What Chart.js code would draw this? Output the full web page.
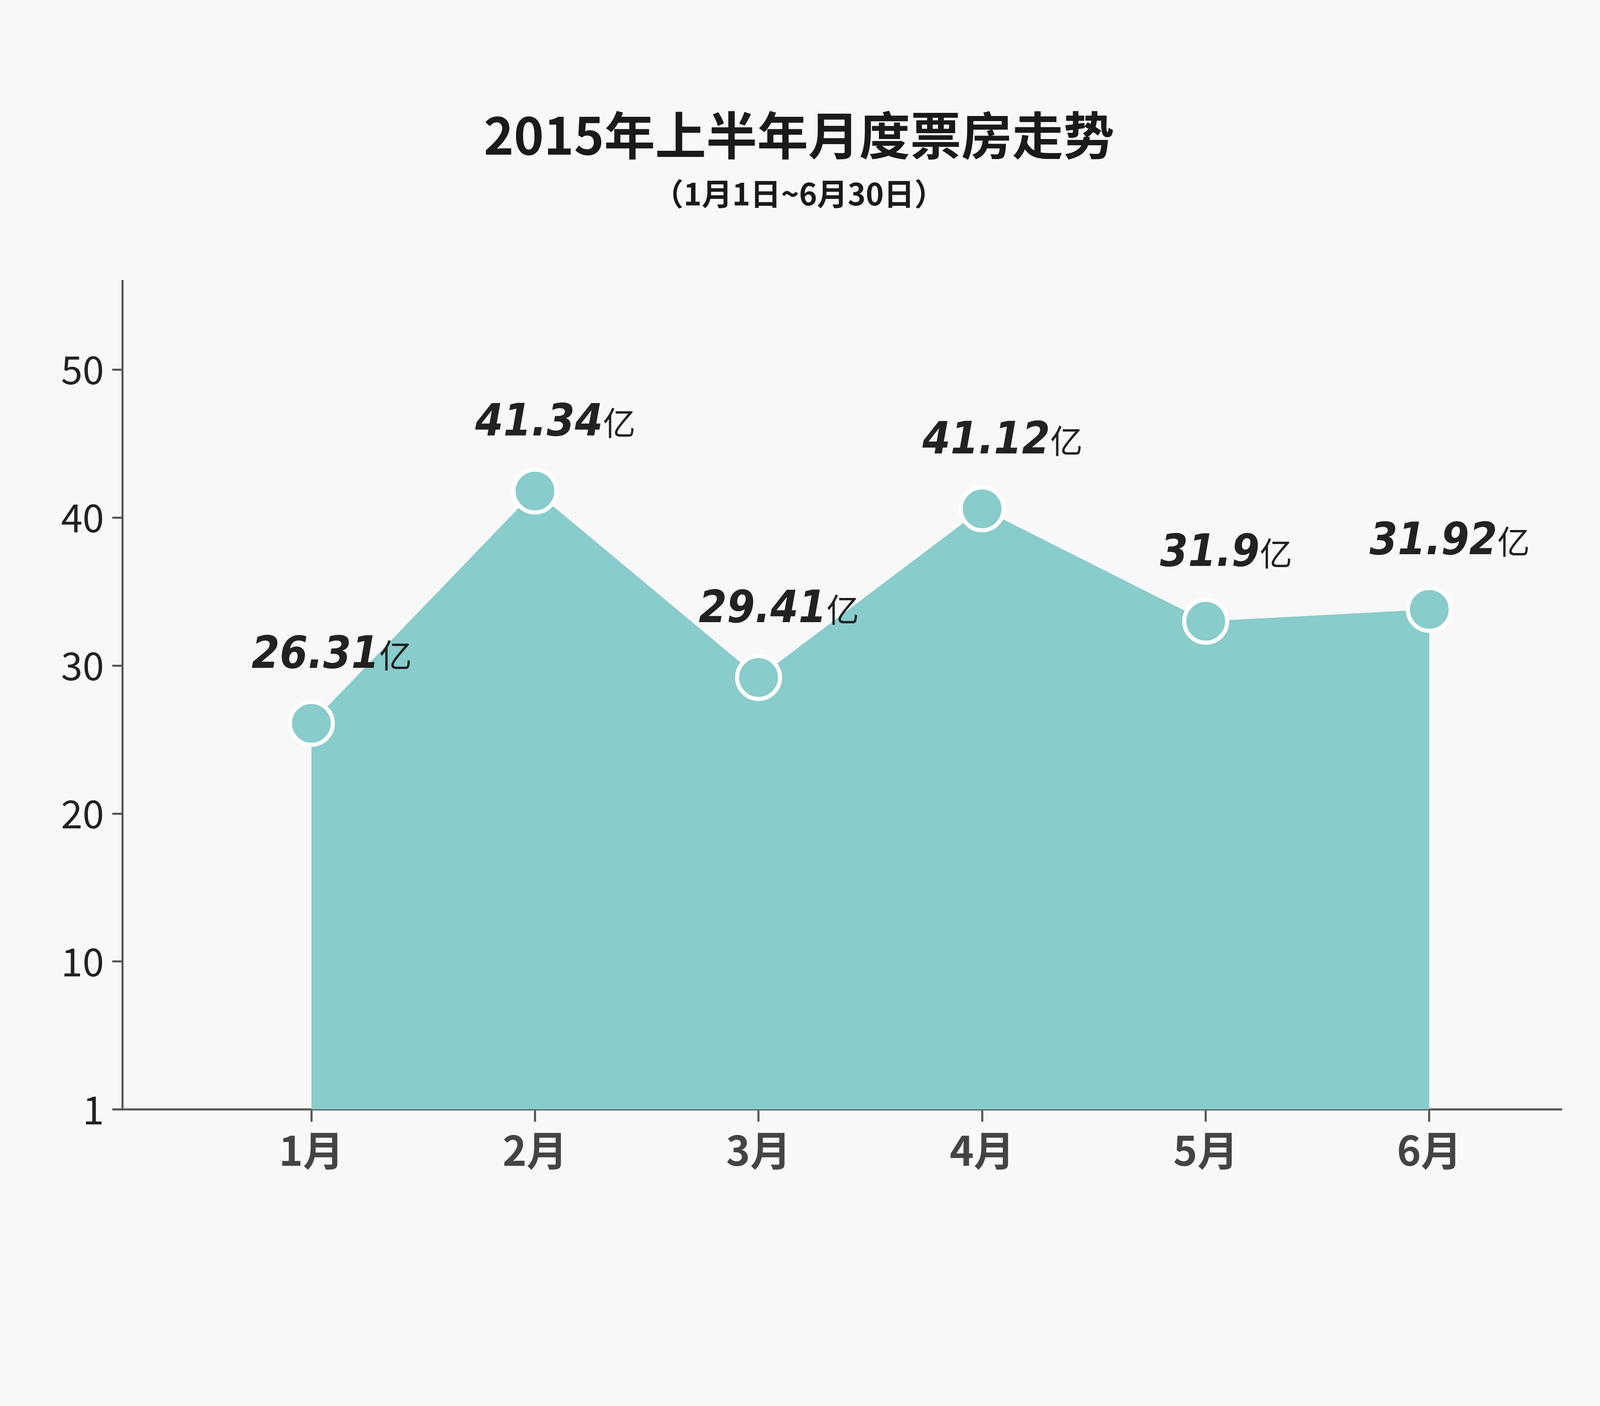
<!DOCTYPE html>
<html><head><meta charset="utf-8">
<script src="https://cdn.jsdelivr.net/npm/chart.js@4/dist/chart.umd.min.js"></script>
<style>html,body{margin:0;padding:0;background:#f8f8f8;overflow:hidden;width:100%;height:100%}#w{position:relative;width:100vw;height:100vh}canvas{display:block}</style>
</head><body>
<div id="w"><canvas id="c"></canvas></div>
<script>
const months = ['1月','2月','3月','4月','5月','6月'];
const monthPos = [1,2,3,4,5,6];
const values = [26.1,41.8,29.2,40.6,33.0,33.8];
const valueLabels = ['26.31','41.34','29.41','41.12','31.9','31.92'];
const yTicks = [0,10,20,30,40,50];
const yTickLabels = ['1','10','20','30','40','50'];
const title = '2015年上半年月度票房走势';
const subtitle = '（1月1日~6月30日）';

const SX = window.innerWidth/1568;
const SY = window.innerHeight/1176;
const S = Math.min(SX, SY);
const teal = '#88cccb';
const font = "'Noto Sans CJK SC','Noto Sans',sans-serif";

const textPlugin = {
  id:'txt',
  afterDatasetsDraw(chart){
    const ctx = chart.ctx;
    ctx.save();
    ctx.fillStyle = '#1a1a1a';
    ctx.textAlign = 'center';
    ctx.textBaseline = 'middle';
    ctx.font = `bold ${50*S}px ${font}`;
    ctx.fillText(title, 783*SX, 113*SY);
    ctx.font = `bold ${30*S}px ${font}`;
    ctx.fillText(subtitle, 783*SX, 162*SY);
    const meta = chart.getDatasetMeta(0);
    meta.data.forEach((p,i)=>{
      const num = valueLabels[i];
      const nf = `italic bold ${44*S}px 'DejaVu Sans Condensed','DejaVu Sans',sans-serif`;
      ctx.font = nf;
      const w1 = ctx.measureText(num).width;
      ctx.font = `${32*S}px ${font}`;
      const w2 = ctx.measureText('亿').width;
      const cx = p.x + 20*SX, cy = p.y - 60*SY;
      const x0 = cx - (w1+w2)/2;
      ctx.textAlign = 'left';
      ctx.textBaseline = 'alphabetic';
      ctx.fillStyle = '#222';
      ctx.font = nf;
      ctx.fillText(num, x0, cy + 16*S);
      ctx.font = `${32*S}px ${font}`;
      ctx.fillText('亿', x0 + w1, cy + 16*S);
    });
    ctx.restore();
  }
};

new Chart(document.getElementById('c'), {
  type:'line',
  data:{datasets:[{
    data: monthPos.map((x,i)=>({x, y:values[i]})),
    fill:'origin',
    backgroundColor: teal,
    borderColor: teal,
    borderWidth: 0,
    tension: 0,
    pointRadius: 21*S,
    pointBackgroundColor: teal,
    pointBorderColor: '#ffffff',
    pointBorderWidth: 4*S
  }]},
  options:{
    responsive:true, maintainAspectRatio:false, animation:false,
    layout:{padding:{top:235*SY, right:38*SX, left:0, bottom:0}},
    plugins:{legend:{display:false}, tooltip:{enabled:false}},
    scales:{
      x:{type:'linear', min:0.155, max:6.59,
        afterBuildTicks(ax){ ax.ticks = monthPos.map(v=>({value:v})); },
        afterFit(ax){ ax.height = (1176-928)*SY; },
        ticks:{callback:(v)=>months[monthPos.indexOf(v)], color:'#444',
          font:{family:font, size:40*S, weight:'bold'}, padding:4*S},
        grid:{display:true, drawOnChartArea:false, drawTicks:true, tickLength:12*S, color:'#555', lineWidth:2*S},
        border:{display:true, color:'#555', width:2*S}
      },
      y:{type:'linear', min:0, max:56,
        afterBuildTicks(ax){ ax.ticks = yTicks.map(v=>({value:v})); },
        afterFit(ax){ ax.width = 120*SX; },
        ticks:{callback:(v)=>yTickLabels[yTicks.indexOf(v)], color:'#222',
          font:{family:font, size:38*S}, padding:8*S},
        grid:{display:true, drawOnChartArea:false, drawTicks:true, tickLength:10*S, color:'#555', lineWidth:2*S},
        border:{display:true, color:'#555', width:2*S}
      }
    }
  },
  plugins:[textPlugin]
});
</script>
</body></html>
